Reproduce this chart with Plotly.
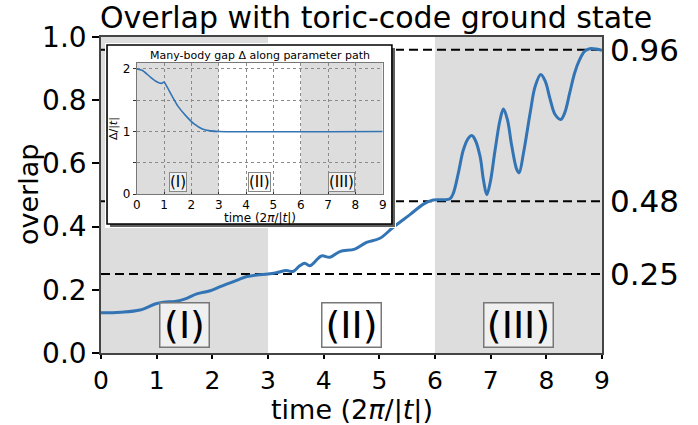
import plotly.graph_objects as go

# ---- data ----
time_main = [0, 0.35, 0.7, 0.97, 1.12, 1.33, 1.54, 1.72, 1.96, 2.14, 2.38, 2.62, 2.8, 3.0,
             3.15, 3.33, 3.45, 3.57, 3.66, 3.75, 3.96, 4.11, 4.29, 4.56, 4.77, 5.01, 5.25,
             5.55, 5.8, 5.97, 6.15, 6.27, 6.33, 6.42, 6.51, 6.60, 6.66, 6.72, 6.81, 6.87,
             6.93, 6.99, 7.08, 7.17, 7.23, 7.30, 7.38, 7.47, 7.51, 7.59, 7.71, 7.80, 7.90,
             7.98, 8.07, 8.16, 8.26, 8.33, 8.42, 8.51, 8.60, 8.69, 8.78, 8.9, 9.0]
overlap = [0.127, 0.129, 0.136, 0.155, 0.161, 0.163, 0.173, 0.187, 0.197, 0.210, 0.226, 0.242,
           0.247, 0.250, 0.254, 0.261, 0.258, 0.276, 0.284, 0.276, 0.307, 0.303, 0.321, 0.329,
           0.350, 0.363, 0.398, 0.438, 0.472, 0.484, 0.485, 0.488, 0.506, 0.570, 0.643, 0.680,
           0.688, 0.675, 0.622, 0.548, 0.501, 0.538, 0.643, 0.739, 0.772, 0.739, 0.654, 0.580,
           0.570, 0.633, 0.760, 0.844, 0.881, 0.860, 0.802, 0.754, 0.739, 0.760, 0.823, 0.887,
           0.929, 0.955, 0.963, 0.962, 0.958]

time_gap = [0, 0.2, 0.5, 0.75, 0.9, 1.0, 1.1, 1.3, 1.5, 1.8, 2.1, 2.4, 2.7, 3.0, 9.0]
gap = [2.0, 1.98, 1.87, 1.79, 1.77, 1.79, 1.72, 1.56, 1.41, 1.25, 1.12, 1.04, 1.01, 1.0, 1.0]

ref_levels = [0.96, 0.48, 0.25]
ref_labels = ["0.96", "0.48", "0.25"]
regions = [(0, 3), (3, 6), (6, 9)]
region_labels = ["(I)", "(II)", "(III)"]
shaded = [True, False, True]
x_ticks = list(range(10))
y_ticks = [0.0, 0.2, 0.4, 0.6, 0.8, 1.0]

FONT = "DejaVu Sans"
BLUE = "#3374b4"
GREY = "rgb(221,221,221)"
TIME_LABEL = "time (2<i>π</i>/|<i>t</i>|)"

fig = go.Figure()

# dashed reference lines (main axes)
for lv in ref_levels:
    fig.add_trace(go.Scatter(x=[0, 9], y=[lv, lv], mode="lines",
                             line=dict(color="black", width=2, dash="9px,5px"),
                             hoverinfo="skip", showlegend=False, xaxis="x", yaxis="y"))

fig.add_trace(go.Scatter(x=time_main, y=overlap, mode="lines",
                         line=dict(color=BLUE, width=3, shape="spline", smoothing=1.0),
                         showlegend=False, xaxis="x", yaxis="y"))

# inset curve (third subplot, drawn on top of the box subplot)
fig.add_trace(go.Scatter(x=time_gap, y=gap, mode="lines",
                         line=dict(color=BLUE, width=1.6, shape="spline", smoothing=0.6),
                         showlegend=False, xaxis="x3", yaxis="y3"))

shapes = []
for (a, b), s in zip(regions, shaded):
    if s:
        shapes.append(dict(type="rect", xref="x", yref="y", x0=a, x1=b, y0=0, y1=1,
                           fillcolor=GREY, line=dict(width=0), layer="below"))

# inset frame: shadow + white panel, inside the "box" subplot (x2/y2)
shapes.append(dict(type="rect", xref="x2", yref="y2", x0=0.0172, x1=0.9966, y0=0.0054,
                   y1=0.973, fillcolor="rgb(95,95,95)", line=dict(width=0), layer="below"))
shapes.append(dict(type="rect", xref="x2", yref="y2", x0=0.0069, x1=0.986, y0=0.0216,
                   y1=0.989, fillcolor="white", line=dict(color="black", width=1.6),
                   layer="below"))
for (a, b), s in zip(regions, shaded):
    if s:
        shapes.append(dict(type="rect", xref="x3", yref="y3", x0=a, x1=b, y0=0, y1=2.1,
                           fillcolor=GREY, line=dict(width=0), layer="below"))

annotations = []
for lv, lab in zip(ref_levels, ref_labels):
    annotations.append(dict(x=1, xref="paper", y=lv, yref="y", text=lab, showarrow=False,
                            xanchor="left", yanchor="middle", xshift=6,
                            font=dict(family=FONT, size=31, color="black")))
box_w = [48, 58, 68]
for (a, b), s, lab, w in zip(regions, shaded, region_labels, box_w):
    annotations.append(dict(x=(a + b) / 2, xref="x", y=0.089, yref="y", text=lab,
                            showarrow=False, font=dict(family=FONT, size=38, color="black"),
                            width=w, height=43, align="center", valign="middle",
                            bordercolor="#777777", borderwidth=1.5, borderpad=0,
                            bgcolor="rgba(255,255,255,0.55)"))
    annotations.append(dict(x=(a + b) / 2, xref="x3", y=0.2, yref="y3", text=lab,
                            showarrow=False, font=dict(family=FONT, size=15, color="black"),
                            bordercolor="#888888", borderwidth=1, borderpad=0,
                            bgcolor="rgba(255,255,255,0.55)"))
# inset texts
annotations.append(dict(x=0.5, xref="x3 domain", y=1.055, yref="y3 domain",
                        text="Many-body gap Δ along parameter path", showarrow=False,
                        xanchor="center", yanchor="middle",
                        font=dict(family=FONT, size=11, color="black")))
annotations.append(dict(x=0.5, xref="x3 domain", y=0, yref="y3 domain", yshift=-24,
                        text=TIME_LABEL, showarrow=False, xanchor="center", yanchor="middle",
                        font=dict(family=FONT, size=12, color="black")))
annotations.append(dict(x=0, xref="x3 domain", y=0.5, yref="y3 domain", xshift=-23,
                        text="Δ/|<i>t</i>|", showarrow=False, textangle=-90,
                        xanchor="center", yanchor="middle",
                        font=dict(family=FONT, size=11, color="black")))
# main texts
annotations.append(dict(x=(376 - 101) / 501, xref="paper", y=1.0, yref="paper",
                        text="Overlap with toric-code ground state", showarrow=False,
                        xanchor="center", yanchor="bottom", yshift=0,
                        font=dict(family=FONT, size=30, color="black")))
annotations.append(dict(x=0.5, xref="paper", y=0, yref="paper", yshift=-57,
                        text=TIME_LABEL, showarrow=False, xanchor="center", yanchor="middle",
                        height=26, valign="middle", borderpad=0,
                        font=dict(family=FONT, size=27, color="black")))
annotations.append(dict(x=0, xref="paper", y=0.5, yref="paper", xshift=-73,
                        text="overlap", showarrow=False, textangle=-90,
                        xanchor="center", yanchor="middle",
                        font=dict(family=FONT, size=27, color="black")))

hidden = dict(visible=False, range=[0, 1], showgrid=False, zeroline=False, fixedrange=True)

fig.update_layout(
    width=698, height=425,
    margin=dict(l=101, r=96, t=37, b=72, autoexpand=False),
    paper_bgcolor="white", plot_bgcolor="white",
    font=dict(family=FONT, color="black"),
    shapes=shapes, annotations=annotations,
    xaxis=dict(domain=[0, 1], range=[0, 9], tickvals=x_ticks, ticks="outside", ticklen=4,
               tickwidth=1.5, tickcolor="black", showgrid=False, zeroline=False,
               showline=True, linecolor="#444", linewidth=1.5, mirror=True, automargin=False,
               tickfont=dict(size=25)),
    yaxis=dict(domain=[0, 1], range=[0, 1], tickvals=y_ticks, tickformat=".1f",
               ticks="outside", ticklen=7, tickwidth=1.5, tickcolor="black",
               showgrid=False, zeroline=False, showline=True, linecolor="#444",
               linewidth=1.5, mirror=True, automargin=False, tickfont=dict(size=28)),
    xaxis2=dict(domain=[0.008, 0.5888], anchor="y2", automargin=False, **hidden),
    yaxis2=dict(domain=[0.3956, 0.981], anchor="x2", automargin=False, **hidden),
    xaxis3=dict(domain=[0.0713, 0.5623], anchor="y3", range=[0, 9], tickvals=x_ticks,
                ticks="inside", ticklen=2, tickcolor="#333", showgrid=True,
                gridcolor="#8a8a8a", griddash="dot", gridwidth=1, zeroline=False,
                showline=True, linecolor="#777", linewidth=1, mirror=True, automargin=False,
                tickfont=dict(size=12)),
    yaxis3=dict(domain=[0.503, 0.9187], anchor="x3", range=[0, 2.1],
                tickvals=[0, 0.5, 1, 1.5, 2], ticktext=["0", "", "1", "", "2"],
                ticks="outside", ticklen=3, tickcolor="#333", showgrid=True,
                gridcolor="#8a8a8a", griddash="dot", gridwidth=1, zeroline=False,
                showline=True, linecolor="#777", linewidth=1, mirror=True, automargin=False,
                tickfont=dict(size=12)),
)

fig.write_html("out.html")
